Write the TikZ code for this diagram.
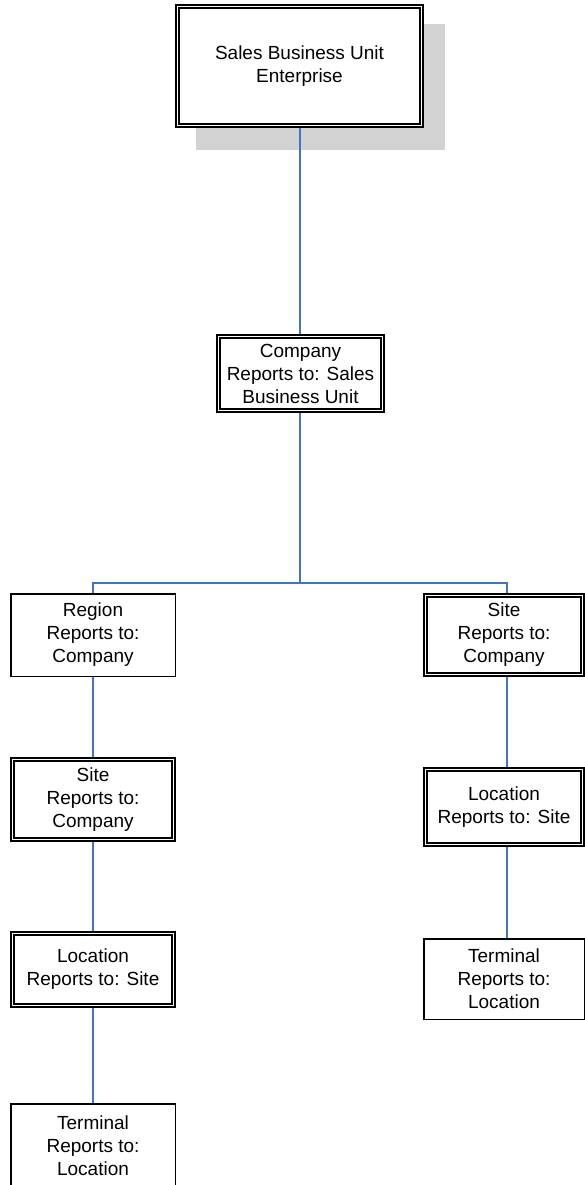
\documentclass[tikz,border=0pt]{standalone}
\usepackage{fontspec}
\setmainfont{Liberation Sans}
\begin{document}
\begin{tikzpicture}[x=1pt,y=-1pt,
  every node/.style={align=center,font=\fontsize{19}{23}\selectfont,inner sep=1pt},
  dbox/.style={draw=black,double=white,double distance=1.4pt,line width=1.6pt,fill=white,outer sep=2.3pt},
  sbox/.style={draw=black,line width=1.5pt,fill=white,outer sep=0.75pt},
  link/.style={draw={rgb,255:red,68;green,114;blue,196},line width=1.4pt}]
\useasboundingbox (0,0) rectangle (585,1185);
% shadow
\fill[gray!35] (196,24) rectangle (445,150);
% nodes
\node[dbox,minimum width=244.4pt,minimum height=119.4pt] (top) at (299.5,66) {Sales Business Unit\\Enterprise};
\node[dbox,minimum width=164.4pt,minimum height=74.4pt] (comp) at (300.5,373.5) {Company\\Reports to: Sales\\Business Unit};
\node[sbox,minimum width=164.5pt,minimum height=82.5pt] (region) at (93,635) {Region\\Reports to:\\Company};
\node[dbox,minimum width=157.4pt,minimum height=79.4pt] (siteR) at (504,635) {Site\\Reports to:\\Company};
\node[dbox,minimum width=161.4pt,minimum height=80.4pt] (siteL) at (93,799.5) {Site\\Reports to:\\Company};
\node[dbox,minimum width=157.4pt,minimum height=75.4pt] (locR) at (504,807) {Location\\Reports to: Site};
\node[dbox,minimum width=161.4pt,minimum height=72.4pt] (locL) at (93,969.5) {Location\\Reports to: Site};
\node[sbox,minimum width=160.5pt,minimum height=80.5pt] (termR) at (504,979) {Terminal\\Reports to:\\Location};
\node[sbox,minimum width=164.5pt,minimum height=84.5pt] (termL) at (93,1146) {Terminal\\Reports to:\\Location};
% connectors
\coordinate (bus) at (300,583);
\coordinate (rc) at (507,0);
\draw[link] (top.south -| bus) -- (comp.north -| bus);
\draw[link] (comp.south -| bus) -- (bus);
\draw[link] (region.north) -- (region.north |- bus) -- (rc |- bus) -- (rc |- siteR.north);
\draw[link] (region.south) -- (siteL.north);
\draw[link] (siteL.south) -- (locL.north);
\draw[link] (locL.south) -- (termL.north);
\draw[link] (rc |- siteR.south) -- (rc |- locR.north);
\draw[link] (rc |- locR.south) -- (rc |- termR.north);
\end{tikzpicture}
\end{document}
